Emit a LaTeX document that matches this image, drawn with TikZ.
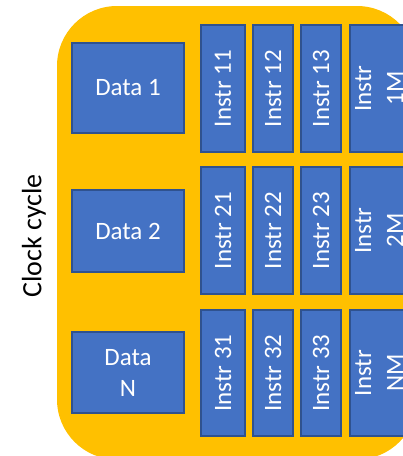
\documentclass[tikz,border=0pt]{standalone}
\usepackage{fontspec}
\setmainfont{Carlito}
\definecolor{ybg}{HTML}{FFC000}
\definecolor{bfill}{HTML}{4472C4}
\definecolor{bline}{HTML}{2F528F}
\begin{document}
\begin{tikzpicture}[x=1pt,y=-1pt,
  box/.style={draw=bline,line width=1.3pt,fill=bfill,text=white,font=\fontsize{25}{31}\selectfont,align=center,inner sep=0pt},
  lbl/.style={text=white,font=\fontsize{25}{32}\selectfont,align=center,rotate=90,inner sep=0pt}]
\useasboundingbox (0,0) rectangle (403,456);
\begin{scope}
\clip (0,0) rectangle (403,456);
\fill[ybg,rounded corners=60pt] (57,6) rectangle (417,459.5);
% data boxes
\draw[box] (72,43) rectangle (184,133) node[midway] (d1) {Data 1};
\draw[box] (72,190) rectangle (184,272) node[midway] (d2) {Data 2};
\draw[box] (72,332) rectangle (184,413) node[midway] (dn) {Data\\N};
% instr columns
\foreach \r/\ya/\yb/\last in {1/25/152/1M,2/167/294/2M,3/310/436/NM}{
  \foreach \c/\xa/\xb in {1/201/245,2/253/293,3/301/341}{
    \draw[box] (\xa,\ya) rectangle (\xb,\yb);
    \node[lbl] (i\r\c) at ({(\xa+\xb)/2},{(\ya+\yb)/2}) {Instr \r\c};
  }
  \draw[box] (350,\ya) rectangle (408,\yb);
  \node[lbl] (i\r m) at (379,{(\ya+\yb)/2}) {Instr\\\last};
}
\end{scope}
\node[rotate=90,font=\fontsize{28}{34}\selectfont,inner sep=0pt] (cc) at (34,236) {Clock cycle};
\end{tikzpicture}
\end{document}
